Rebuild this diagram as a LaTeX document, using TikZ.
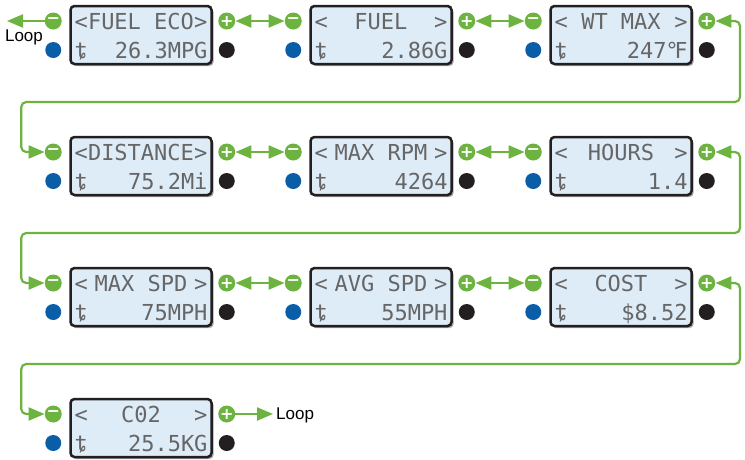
\documentclass[tikz,border=0pt]{standalone}
\usepackage{fontspec}
\usetikzlibrary{arrows.meta,shadows}
\newfontfamily\lcdfont{DejaVu Sans Mono}
\newfontfamily\signfont{DejaVu Sans}
\newfontfamily\loopfont{Liberation Sans}
\definecolor{lcdblue}{RGB}{222,236,248}
\definecolor{lcdline}{RGB}{35,31,32}
\definecolor{keygreen}{RGB}{108,179,63}
\definecolor{keyblue}{RGB}{10,94,168}

\begin{document}
\begin{tikzpicture}[x=1pt,y=-1pt,
  lcd/.style={rectangle,rounded corners=4pt,draw=lcdline,line width=2.5pt,fill=lcdblue,
    minimum width=141pt,minimum height=58pt,inner sep=0pt,text=black!60,
    font=\lcdfont\fontsize{22}{29.5}\selectfont,
    drop shadow={shadow xshift=2pt,shadow yshift=-2pt,fill=black,opacity=0.35}},
  key/.style={circle,fill=keygreen,minimum size=17pt,inner sep=0pt,text=white,
    font=\signfont\bfseries\fontsize{16}{16}\selectfont},
  dot/.style={circle,minimum size=16pt,inner sep=0pt},
  looptext/.style={font=\loopfont\fontsize{17}{17}\selectfont,inner sep=0pt},
  link/.style={keygreen,line width=2.2pt,rounded corners=5pt,
    >={Triangle[length=16pt,width=13pt]}}]
\useasboundingbox (0,0) rectangle (745,459);

% displays, keys and buttons
\foreach \i/\cx/\ry/\title/\val in {1/0/0/FUEL ECO/26.3MPG, 2/1/0/FUEL/2.86G,
    3/2/0/WT MAX/247{\signfont ℉}, 4/0/1/DISTANCE/75.2Mi, 5/1/1/MAX RPM/4264,
    6/2/1/HOURS/1.4, 7/0/2/MAX SPD/75MPH, 8/1/2/AVG SPD/55MPH,
    9/2/2/COST/\$8.52, 10/0/3/C02/25.5KG}{
  \node[lcd] (D\i) at ({141+240*\cx},{35+131*\ry})
    {\parbox[c][58pt][t]{133pt}{\rule{0pt}{23pt}<\hfill\title\hfill>\\ȶ\hfill\val}};
  \node[key] (M\i) at ([xshift=-16pt,yshift=14pt]D\i.west) {−};
  \node[key] (P\i) at ([xshift=14pt,yshift=14pt]D\i.east) {+};
  \node[dot,fill=keyblue] (B\i) at ([xshift=-16pt,yshift=-15pt]D\i.west) {};
  \node[dot,fill=lcdline] (K\i) at ([xshift=14pt,yshift=-15pt]D\i.east) {};
}

\draw[link,<->] (P1) -- (M2); \draw[link,<->] (P2) -- (M3);
\draw[link,<->] (P4) -- (M5); \draw[link,<->] (P5) -- (M6);
\draw[link,<->] (P7) -- (M8); \draw[link,<->] (P8) -- (M9);

% wrap to the next row
\draw[link,<->] (P3) -| (740,102) -| ([xshift=-32pt]M4.center) -- (M4);
\draw[link,<->] (P6) -| (740,233) -| ([xshift=-32pt]M7.center) -- (M7);
\draw[link,<->] (P9) -| (740,364) -| ([xshift=-32pt]M10.center) -- (M10);

% loop ends
\coordinate (L1) at (7,21);
\coordinate (L2) at (273,414);
\draw[link,->] (M1) -- (L1);
\draw[link,->] (P10) -- (L2);
\node[looptext] (T1) at (24,37) {Loop};
\node[looptext,anchor=west] (T2) at (276,415) {Loop};
\end{tikzpicture}
\end{document}
